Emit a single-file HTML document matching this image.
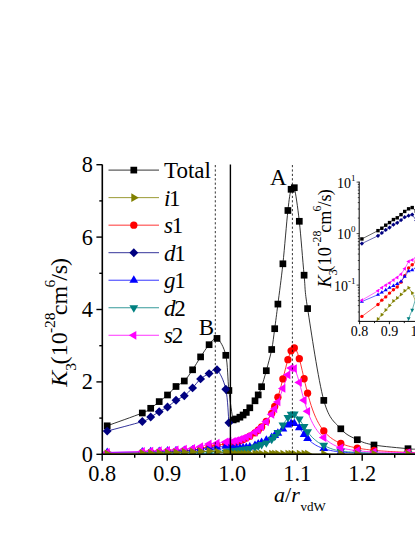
<!DOCTYPE html>
<html><head><meta charset="utf-8"><title>K3</title>
<style>
html,body{margin:0;padding:0;background:#fff;}
body{width:415px;height:537px;overflow:hidden;}
svg{display:block;}
text{font-family:"Liberation Serif",serif;fill:#000;}
.t20{font-size:23px;} .tk{font-size:22.3px;} .t21{font-size:23px;} .t22{font-size:24px;}
.t12{font-size:14px;} .t16{font-size:18.3px;}
.sub{font-size:15.5px;} .sub10{font-size:11.8px;} .sup8{font-size:9px;}
</style></head><body>
<svg width="415" height="537" viewBox="0 0 415 537">
<defs><clipPath id="mainclip"><rect x="102.3" y="160" width="320" height="294.3"/></clipPath><clipPath id="insclip"><rect x="359.2" y="178.1" width="60" height="143.29999999999998"/></clipPath></defs>
<rect width="415" height="537" fill="#fff"/>
<g clip-path="url(#mainclip)">
<path d="M107.20 425.80C113.05 423.67 135.05 415.92 142.30 413.00C149.55 410.08 147.88 410.20 150.70 408.30C153.52 406.40 156.40 403.82 159.20 401.60C162.00 399.38 164.70 397.52 167.50 395.00C170.30 392.48 173.20 388.83 176.00 386.50C178.80 384.17 181.53 383.78 184.30 381.00C187.07 378.22 189.88 373.82 192.60 369.80C195.32 365.78 197.85 361.08 200.60 356.90C203.35 352.72 206.37 347.78 209.10 344.70C211.83 341.62 214.22 336.63 217.00 338.40C219.78 340.17 223.82 346.62 225.80 355.30C227.78 363.98 227.67 379.73 228.90 390.50C230.13 401.27 231.95 415.15 233.20 419.90C234.45 424.65 235.28 419.45 236.40 419.00C237.52 418.55 238.78 417.87 239.90 417.20C241.02 416.53 242.03 415.80 243.10 415.00C244.17 414.20 245.18 413.60 246.30 412.40C247.42 411.20 248.35 409.73 249.80 407.80C251.25 405.87 253.60 402.95 255.00 400.80C256.40 398.65 257.10 397.25 258.20 394.90C259.30 392.55 260.25 390.73 261.60 386.70C262.95 382.67 264.62 376.90 266.30 370.70C267.98 364.50 270.30 356.50 271.70 349.50C273.10 342.50 273.67 336.27 274.70 328.70C275.73 321.13 276.53 314.92 277.90 304.10C279.27 293.28 281.23 279.40 282.90 263.80C284.57 248.20 286.53 222.92 287.90 210.50C289.27 198.08 290.03 193.10 291.10 189.30C292.17 185.50 292.93 182.37 294.30 187.70C295.67 193.03 297.67 206.72 299.30 221.30C300.93 235.88 302.72 260.65 304.10 275.20C305.48 289.75 304.32 287.73 307.60 308.60C310.88 329.47 318.27 380.37 323.80 400.40C329.33 420.43 335.22 422.25 340.80 428.80C346.38 435.35 351.77 437.00 357.30 439.70C362.83 442.40 365.55 443.50 374.00 445.00C382.45 446.50 401.17 448.00 408.00 448.70C414.83 449.40 413.83 449.12 415.00 449.20" fill="none" stroke="#000000" stroke-width="0.8"/>
<rect x="103.85" y="422.45" width="6.70" height="6.70" fill="#000000"/>
<rect x="138.95" y="409.65" width="6.70" height="6.70" fill="#000000"/>
<rect x="147.35" y="404.95" width="6.70" height="6.70" fill="#000000"/>
<rect x="155.85" y="398.25" width="6.70" height="6.70" fill="#000000"/>
<rect x="164.15" y="391.65" width="6.70" height="6.70" fill="#000000"/>
<rect x="172.65" y="383.15" width="6.70" height="6.70" fill="#000000"/>
<rect x="180.95" y="377.65" width="6.70" height="6.70" fill="#000000"/>
<rect x="189.25" y="366.45" width="6.70" height="6.70" fill="#000000"/>
<rect x="197.25" y="353.55" width="6.70" height="6.70" fill="#000000"/>
<rect x="205.75" y="341.35" width="6.70" height="6.70" fill="#000000"/>
<rect x="213.65" y="335.05" width="6.70" height="6.70" fill="#000000"/>
<rect x="222.45" y="351.95" width="6.70" height="6.70" fill="#000000"/>
<rect x="225.55" y="387.15" width="6.70" height="6.70" fill="#000000"/>
<rect x="229.85" y="416.55" width="6.70" height="6.70" fill="#000000"/>
<rect x="233.05" y="415.65" width="6.70" height="6.70" fill="#000000"/>
<rect x="236.55" y="413.85" width="6.70" height="6.70" fill="#000000"/>
<rect x="239.75" y="411.65" width="6.70" height="6.70" fill="#000000"/>
<rect x="242.95" y="409.05" width="6.70" height="6.70" fill="#000000"/>
<rect x="246.45" y="404.45" width="6.70" height="6.70" fill="#000000"/>
<rect x="251.65" y="397.45" width="6.70" height="6.70" fill="#000000"/>
<rect x="254.85" y="391.55" width="6.70" height="6.70" fill="#000000"/>
<rect x="258.25" y="383.35" width="6.70" height="6.70" fill="#000000"/>
<rect x="262.95" y="367.35" width="6.70" height="6.70" fill="#000000"/>
<rect x="268.35" y="346.15" width="6.70" height="6.70" fill="#000000"/>
<rect x="271.35" y="325.35" width="6.70" height="6.70" fill="#000000"/>
<rect x="274.55" y="300.75" width="6.70" height="6.70" fill="#000000"/>
<rect x="279.55" y="260.45" width="6.70" height="6.70" fill="#000000"/>
<rect x="284.55" y="207.15" width="6.70" height="6.70" fill="#000000"/>
<rect x="287.75" y="185.95" width="6.70" height="6.70" fill="#000000"/>
<rect x="290.95" y="184.35" width="6.70" height="6.70" fill="#000000"/>
<rect x="295.95" y="217.95" width="6.70" height="6.70" fill="#000000"/>
<rect x="300.75" y="271.85" width="6.70" height="6.70" fill="#000000"/>
<rect x="304.25" y="305.25" width="6.70" height="6.70" fill="#000000"/>
<rect x="320.45" y="397.05" width="6.70" height="6.70" fill="#000000"/>
<rect x="337.45" y="425.45" width="6.70" height="6.70" fill="#000000"/>
<rect x="353.95" y="436.35" width="6.70" height="6.70" fill="#000000"/>
<rect x="370.65" y="441.65" width="6.70" height="6.70" fill="#000000"/>
<rect x="404.65" y="445.35" width="6.70" height="6.70" fill="#000000"/>
<path d="M107.20 453.41L142.30 452.78L150.70 452.45L159.20 452.16L167.50 451.77L176.00 451.37L184.30 450.97L192.60 450.17L200.60 448.80L209.10 446.48L217.00 445.32L225.80 443.80L228.90 443.08" fill="none" stroke="#ff0000" stroke-width="0.8"/>
<circle cx="107.20" cy="453.41" r="3.65" fill="#ff0000"/>
<circle cx="142.30" cy="452.78" r="3.65" fill="#ff0000"/>
<circle cx="150.70" cy="452.45" r="3.65" fill="#ff0000"/>
<circle cx="159.20" cy="452.16" r="3.65" fill="#ff0000"/>
<circle cx="167.50" cy="451.77" r="3.65" fill="#ff0000"/>
<circle cx="176.00" cy="451.37" r="3.65" fill="#ff0000"/>
<circle cx="184.30" cy="450.97" r="3.65" fill="#ff0000"/>
<circle cx="192.60" cy="450.17" r="3.65" fill="#ff0000"/>
<circle cx="200.60" cy="448.80" r="3.65" fill="#ff0000"/>
<circle cx="209.10" cy="446.48" r="3.65" fill="#ff0000"/>
<circle cx="217.00" cy="445.32" r="3.65" fill="#ff0000"/>
<circle cx="225.80" cy="443.80" r="3.65" fill="#ff0000"/>
<circle cx="228.90" cy="443.08" r="3.65" fill="#ff0000"/>
<path d="M233.20 442.97L234.70 442.54L236.20 442.09L237.70 441.60L239.20 441.09L240.70 440.53L242.20 439.94L243.70 439.31L245.20 438.63L246.70 437.90L248.20 437.11L249.70 436.26L251.20 435.38L252.70 434.43L254.20 433.41L255.70 432.30L257.20 431.10L258.70 429.78L260.20 428.35L261.70 426.78L263.20 425.05L264.70 423.30L266.20 421.54L267.70 419.59L269.20 417.44L270.70 415.06L272.20 412.34L273.70 408.89L275.20 405.09L276.70 400.90L278.20 396.29L279.70 391.09L281.20 385.54L282.70 379.72L284.20 373.75L285.70 367.81L287.20 362.14L288.70 357.03L290.20 352.80L291.70 349.75L293.20 348.14L294.70 348.10L296.20 349.92L297.70 353.43L299.20 358.30L300.70 364.12L302.20 370.48L303.70 377.03L305.20 383.48L306.70 389.66L308.20 395.44L309.70 400.76L311.20 405.61L312.70 409.98L314.20 413.91L315.70 417.44L317.20 420.59L318.70 423.40L320.20 425.92L321.70 428.18L323.20 430.20L324.70 432.02L326.20 433.65L327.70 435.13L329.20 436.46L330.70 437.66L332.20 438.76L333.70 439.75L335.20 440.66L336.70 441.49L338.20 442.24L339.70 442.94L341.20 443.58L342.70 444.17L344.20 444.71L345.70 445.21L347.20 445.68L348.70 446.11L350.20 446.51L351.70 446.88L353.20 447.22L354.70 447.55L356.20 447.85L357.70 448.13L359.20 448.40L360.70 448.65L362.20 448.88L363.70 449.10L365.20 449.31L366.70 449.50L368.20 449.68L369.70 449.86L371.20 450.02L372.70 450.18L374.20 450.32L375.70 450.46L377.20 450.60L378.70 450.72L380.20 450.84L381.70 450.96L383.20 451.06L384.70 451.17L386.20 451.26L387.70 451.36L389.20 451.45L390.70 451.53L392.20 451.62L393.70 451.69L395.20 451.77L396.70 451.84L398.20 451.91L399.70 451.97L401.20 452.04L402.70 452.10L404.20 452.16L405.70 452.21L407.20 452.27L408.70 452.32L410.20 452.37L411.70 452.42L413.20 452.46L414.70 452.51L415.00 452.52" fill="none" stroke="#ff0000" stroke-width="0.8"/>
<circle cx="233.20" cy="442.97" r="3.65" fill="#ff0000"/>
<circle cx="236.40" cy="442.03" r="3.65" fill="#ff0000"/>
<circle cx="239.90" cy="440.83" r="3.65" fill="#ff0000"/>
<circle cx="243.10" cy="439.57" r="3.65" fill="#ff0000"/>
<circle cx="246.30" cy="438.10" r="3.65" fill="#ff0000"/>
<circle cx="249.80" cy="436.20" r="3.65" fill="#ff0000"/>
<circle cx="255.00" cy="432.83" r="3.65" fill="#ff0000"/>
<circle cx="258.20" cy="430.23" r="3.65" fill="#ff0000"/>
<circle cx="261.60" cy="426.88" r="3.65" fill="#ff0000"/>
<circle cx="266.30" cy="421.42" r="3.65" fill="#ff0000"/>
<circle cx="271.70" cy="413.32" r="3.65" fill="#ff0000"/>
<circle cx="274.70" cy="406.40" r="3.65" fill="#ff0000"/>
<circle cx="277.90" cy="397.27" r="3.65" fill="#ff0000"/>
<circle cx="282.90" cy="378.93" r="3.65" fill="#ff0000"/>
<circle cx="287.90" cy="359.67" r="3.65" fill="#ff0000"/>
<circle cx="291.10" cy="350.81" r="3.65" fill="#ff0000"/>
<circle cx="294.30" cy="347.94" r="3.65" fill="#ff0000"/>
<circle cx="299.30" cy="358.66" r="3.65" fill="#ff0000"/>
<circle cx="304.10" cy="378.77" r="3.65" fill="#ff0000"/>
<circle cx="307.60" cy="393.18" r="3.65" fill="#ff0000"/>
<circle cx="323.80" cy="430.95" r="3.65" fill="#ff0000"/>
<circle cx="340.80" cy="443.41" r="3.65" fill="#ff0000"/>
<circle cx="357.30" cy="448.06" r="3.65" fill="#ff0000"/>
<circle cx="374.00" cy="450.31" r="3.65" fill="#ff0000"/>
<circle cx="408.00" cy="452.29" r="3.65" fill="#ff0000"/>
<path d="M107.20 431.10C113.05 429.50 135.05 423.85 142.30 421.50C149.55 419.15 147.88 418.63 150.70 417.00C153.52 415.37 156.40 413.37 159.20 411.70C162.00 410.03 164.70 408.90 167.50 407.00C170.30 405.10 173.20 402.17 176.00 400.30C178.80 398.43 181.53 397.87 184.30 395.80C187.07 393.73 189.88 390.72 192.60 387.90C195.32 385.08 197.85 381.28 200.60 378.90C203.35 376.52 206.37 375.13 209.10 373.60C211.83 372.07 214.22 367.10 217.00 369.70C219.78 372.30 223.82 380.37 225.80 389.20C227.78 398.03 228.38 417.12 228.90 422.70" fill="none" stroke="#000080" stroke-width="0.8"/>
<path d="M102.75 431.10L107.20 426.65L111.65 431.10L107.20 435.55Z" fill="#000080"/>
<path d="M137.85 421.50L142.30 417.05L146.75 421.50L142.30 425.95Z" fill="#000080"/>
<path d="M146.25 417.00L150.70 412.55L155.15 417.00L150.70 421.45Z" fill="#000080"/>
<path d="M154.75 411.70L159.20 407.25L163.65 411.70L159.20 416.15Z" fill="#000080"/>
<path d="M163.05 407.00L167.50 402.55L171.95 407.00L167.50 411.45Z" fill="#000080"/>
<path d="M171.55 400.30L176.00 395.85L180.45 400.30L176.00 404.75Z" fill="#000080"/>
<path d="M179.85 395.80L184.30 391.35L188.75 395.80L184.30 400.25Z" fill="#000080"/>
<path d="M188.15 387.90L192.60 383.45L197.05 387.90L192.60 392.35Z" fill="#000080"/>
<path d="M196.15 378.90L200.60 374.45L205.05 378.90L200.60 383.35Z" fill="#000080"/>
<path d="M204.65 373.60L209.10 369.15L213.55 373.60L209.10 378.05Z" fill="#000080"/>
<path d="M212.55 369.70L217.00 365.25L221.45 369.70L217.00 374.15Z" fill="#000080"/>
<path d="M221.35 389.20L225.80 384.75L230.25 389.20L225.80 393.65Z" fill="#000080"/>
<path d="M224.45 422.70L228.90 418.25L233.35 422.70L228.90 427.15Z" fill="#000080"/>
<path d="M107.20 452.56L142.30 451.95L150.70 451.69L159.20 451.40L167.50 451.08L176.00 450.79L184.30 450.46L192.60 450.03L200.60 449.01L209.10 447.53L217.00 447.20L225.80 446.34L228.90 445.61" fill="none" stroke="#0000ff" stroke-width="0.8"/>
<path d="M102.80 455.06L111.60 455.06L107.20 447.58Z" fill="#0000ff"/>
<path d="M137.90 454.44L146.70 454.44L142.30 446.96Z" fill="#0000ff"/>
<path d="M146.30 454.19L155.10 454.19L150.70 446.71Z" fill="#0000ff"/>
<path d="M154.80 453.90L163.60 453.90L159.20 446.42Z" fill="#0000ff"/>
<path d="M163.10 453.57L171.90 453.57L167.50 446.09Z" fill="#0000ff"/>
<path d="M171.60 453.28L180.40 453.28L176.00 445.80Z" fill="#0000ff"/>
<path d="M179.90 452.96L188.70 452.96L184.30 445.48Z" fill="#0000ff"/>
<path d="M188.20 452.52L197.00 452.52L192.60 445.04Z" fill="#0000ff"/>
<path d="M196.20 451.51L205.00 451.51L200.60 444.03Z" fill="#0000ff"/>
<path d="M204.70 450.02L213.50 450.02L209.10 442.54Z" fill="#0000ff"/>
<path d="M212.60 449.70L221.40 449.70L217.00 442.22Z" fill="#0000ff"/>
<path d="M221.40 448.83L230.20 448.83L225.80 441.35Z" fill="#0000ff"/>
<path d="M224.50 448.11L233.30 448.11L228.90 440.63Z" fill="#0000ff"/>
<path d="M233.20 448.47L234.70 448.38L236.20 448.28L237.70 448.18L239.20 448.07L240.70 447.95L242.20 447.83L243.70 447.70L245.20 447.56L246.70 447.41L248.20 447.25L249.70 447.08L251.20 446.68L252.70 446.19L254.20 445.66L255.70 445.10L257.20 444.49L258.70 443.84L260.20 443.14L261.70 442.39L263.20 441.58L264.70 440.85L266.20 440.21L267.70 439.53L269.20 438.79L270.70 437.99L272.20 437.12L273.70 436.18L275.20 435.17L276.70 434.07L278.20 432.89L279.70 431.66L281.20 430.39L282.70 429.08L284.20 427.79L285.70 426.54L287.20 425.39L288.70 424.43L290.20 423.73L291.70 423.35L293.20 423.34L294.70 423.74L296.20 424.59L297.70 425.88L299.20 427.57L300.70 429.58L302.20 431.81L303.70 433.95L305.20 435.82L306.70 437.57L308.20 439.17L309.70 440.63L311.20 441.94L312.70 443.11L314.20 444.16L315.70 445.10L317.20 445.93L318.70 446.67L320.20 447.32L321.70 447.91L323.20 448.44L324.70 448.93L326.20 449.39L327.70 449.80L329.20 450.18L330.70 450.51L332.20 450.81L333.70 451.09L335.20 451.33L336.70 451.56L338.20 451.76L339.70 451.95L341.20 452.09L342.70 452.21L344.20 452.32L345.70 452.42L347.20 452.52L348.70 452.61L350.20 452.69L351.70 452.77L353.20 452.84L354.70 452.91L356.20 452.97L357.70 453.03L359.20 453.08L360.70 453.13L362.20 453.18L363.70 453.22L365.20 453.27L366.70 453.31L368.20 453.34L369.70 453.38L371.20 453.41L372.70 453.45L374.20 453.48L375.70 453.50L377.20 453.53L378.70 453.56L380.20 453.58L381.70 453.61L383.20 453.63L384.70 453.65L386.20 453.67L387.70 453.69L389.20 453.71L390.70 453.72L392.20 453.74L393.70 453.76L395.20 453.77L396.70 453.79L398.20 453.80L399.70 453.82L401.20 453.83L402.70 453.84L404.20 453.85L405.70 453.87L407.20 453.88L408.70 453.89L410.20 453.90L411.70 453.91L413.20 453.92L414.70 453.93L415.00 453.93" fill="none" stroke="#0000ff" stroke-width="0.8"/>
<path d="M228.80 450.96L237.60 450.96L233.20 443.48Z" fill="#0000ff"/>
<path d="M232.00 450.76L240.80 450.76L236.40 443.28Z" fill="#0000ff"/>
<path d="M235.50 450.51L244.30 450.51L239.90 443.03Z" fill="#0000ff"/>
<path d="M238.70 450.24L247.50 450.24L243.10 442.76Z" fill="#0000ff"/>
<path d="M241.90 449.94L250.70 449.94L246.30 442.46Z" fill="#0000ff"/>
<path d="M245.40 449.56L254.20 449.56L249.80 442.08Z" fill="#0000ff"/>
<path d="M250.60 447.86L259.40 447.86L255.00 440.38Z" fill="#0000ff"/>
<path d="M253.80 446.56L262.60 446.56L258.20 439.08Z" fill="#0000ff"/>
<path d="M257.20 444.93L266.00 444.93L261.60 437.45Z" fill="#0000ff"/>
<path d="M261.90 442.66L270.70 442.66L266.30 435.18Z" fill="#0000ff"/>
<path d="M267.30 439.91L276.10 439.91L271.70 432.43Z" fill="#0000ff"/>
<path d="M270.30 438.01L279.10 438.01L274.70 430.53Z" fill="#0000ff"/>
<path d="M273.50 435.63L282.30 435.63L277.90 428.15Z" fill="#0000ff"/>
<path d="M278.50 431.40L287.30 431.40L282.90 423.92Z" fill="#0000ff"/>
<path d="M283.50 427.41L292.30 427.41L287.90 419.93Z" fill="#0000ff"/>
<path d="M286.70 425.96L295.50 425.96L291.10 418.48Z" fill="#0000ff"/>
<path d="M289.90 426.09L298.70 426.09L294.30 418.61Z" fill="#0000ff"/>
<path d="M294.90 430.19L303.70 430.19L299.30 422.71Z" fill="#0000ff"/>
<path d="M299.70 436.96L308.50 436.96L304.10 429.48Z" fill="#0000ff"/>
<path d="M303.20 441.04L312.00 441.04L307.60 433.56Z" fill="#0000ff"/>
<path d="M319.40 451.12L328.20 451.12L323.80 443.64Z" fill="#0000ff"/>
<path d="M336.40 454.55L345.20 454.55L340.80 447.07Z" fill="#0000ff"/>
<path d="M352.90 455.50L361.70 455.50L357.30 448.02Z" fill="#0000ff"/>
<path d="M369.60 455.97L378.40 455.97L374.00 448.49Z" fill="#0000ff"/>
<path d="M403.60 456.38L412.40 456.38L408.00 448.90Z" fill="#0000ff"/>
<path d="M107.20 454.26L142.30 454.26L150.70 454.26L159.20 454.26L167.50 454.26L176.00 454.23L184.30 454.19L192.60 454.12L200.60 453.94L209.10 453.49L217.00 453.11L225.80 452.13L228.90 451.04" fill="none" stroke="#008080" stroke-width="0.8"/>
<path d="M102.80 451.77L111.60 451.77L107.20 459.25Z" fill="#008080"/>
<path d="M137.90 451.77L146.70 451.77L142.30 459.25Z" fill="#008080"/>
<path d="M146.30 451.77L155.10 451.77L150.70 459.25Z" fill="#008080"/>
<path d="M154.80 451.77L163.60 451.77L159.20 459.25Z" fill="#008080"/>
<path d="M163.10 451.77L171.90 451.77L167.50 459.25Z" fill="#008080"/>
<path d="M171.60 451.73L180.40 451.73L176.00 459.21Z" fill="#008080"/>
<path d="M179.90 451.70L188.70 451.70L184.30 459.18Z" fill="#008080"/>
<path d="M188.20 451.63L197.00 451.63L192.60 459.11Z" fill="#008080"/>
<path d="M196.20 451.44L205.00 451.44L200.60 458.92Z" fill="#008080"/>
<path d="M204.70 450.99L213.50 450.99L209.10 458.47Z" fill="#008080"/>
<path d="M212.60 450.61L221.40 450.61L217.00 458.09Z" fill="#008080"/>
<path d="M221.40 449.63L230.20 449.63L225.80 457.11Z" fill="#008080"/>
<path d="M224.50 448.55L233.30 448.55L228.90 456.03Z" fill="#008080"/>
<path d="M233.20 450.80L234.70 450.65L236.20 450.50L237.70 450.33L239.20 450.15L240.70 449.96L242.20 449.75L243.70 449.53L245.20 449.29L246.70 449.03L248.20 448.74L249.70 448.44L251.20 448.08L252.70 447.69L254.20 447.26L255.70 446.79L257.20 446.27L258.70 445.71L260.20 445.09L261.70 444.40L263.20 443.91L264.70 443.44L266.20 442.92L267.70 442.34L269.20 441.37L270.70 440.19L272.20 438.88L273.70 437.43L275.20 435.81L276.70 434.03L278.20 432.08L279.70 429.96L281.20 427.70L282.70 425.33L284.20 422.92L285.70 420.54L287.20 418.33L288.70 416.42L290.20 414.96L291.70 414.05L293.20 413.81L294.70 414.23L296.20 415.29L297.70 416.89L299.20 418.89L300.70 421.15L302.20 423.53L303.70 425.93L305.20 428.27L306.70 430.48L308.20 432.55L309.70 434.45L311.20 436.18L312.70 437.75L314.20 439.16L315.70 440.43L317.20 441.57L318.70 442.59L320.20 443.51L321.70 444.34L323.20 445.08L324.70 445.79L326.20 446.57L327.70 447.28L329.20 447.91L330.70 448.49L332.20 449.01L333.70 449.47L335.20 449.90L336.70 450.28L338.20 450.63L339.70 450.94L341.20 451.15L342.70 451.32L344.20 451.48L345.70 451.63L347.20 451.77L348.70 451.89L350.20 452.01L351.70 452.12L353.20 452.22L354.70 452.32L356.20 452.41L357.70 452.49L359.20 452.57L360.70 452.64L362.20 452.71L363.70 452.77L365.20 452.83L366.70 452.89L368.20 452.94L369.70 452.99L371.20 453.04L372.70 453.09L374.20 453.13L375.70 453.17L377.20 453.21L378.70 453.25L380.20 453.28L381.70 453.32L383.20 453.35L384.70 453.38L386.20 453.41L387.70 453.43L389.20 453.46L390.70 453.49L392.20 453.51L393.70 453.53L395.20 453.55L396.70 453.58L398.20 453.60L399.70 453.61L401.20 453.63L402.70 453.65L404.20 453.67L405.70 453.68L407.20 453.70L408.70 453.72L410.20 453.73L411.70 453.74L413.20 453.76L414.70 453.77L415.00 453.77" fill="none" stroke="#008080" stroke-width="0.8"/>
<path d="M228.80 448.31L237.60 448.31L233.20 455.79Z" fill="#008080"/>
<path d="M232.00 447.98L240.80 447.98L236.40 455.46Z" fill="#008080"/>
<path d="M235.50 447.57L244.30 447.57L239.90 455.05Z" fill="#008080"/>
<path d="M238.70 447.12L247.50 447.12L243.10 454.60Z" fill="#008080"/>
<path d="M241.90 446.60L250.70 446.60L246.30 454.08Z" fill="#008080"/>
<path d="M245.40 445.92L254.20 445.92L249.80 453.40Z" fill="#008080"/>
<path d="M250.60 444.52L259.40 444.52L255.00 452.00Z" fill="#008080"/>
<path d="M253.80 443.41L262.60 443.41L258.20 450.89Z" fill="#008080"/>
<path d="M257.20 441.96L266.00 441.96L261.60 449.44Z" fill="#008080"/>
<path d="M261.90 440.39L270.70 440.39L266.30 447.87Z" fill="#008080"/>
<path d="M267.30 436.84L276.10 436.84L271.70 444.32Z" fill="#008080"/>
<path d="M270.30 433.88L279.10 433.88L274.70 441.36Z" fill="#008080"/>
<path d="M273.50 429.99L282.30 429.99L277.90 437.47Z" fill="#008080"/>
<path d="M278.50 422.52L287.30 422.52L282.90 430.00Z" fill="#008080"/>
<path d="M283.50 414.90L292.30 414.90L287.90 422.38Z" fill="#008080"/>
<path d="M286.70 411.85L295.50 411.85L291.10 419.33Z" fill="#008080"/>
<path d="M289.90 411.56L298.70 411.56L294.30 419.04Z" fill="#008080"/>
<path d="M294.90 416.54L303.70 416.54L299.30 424.02Z" fill="#008080"/>
<path d="M299.70 424.07L308.50 424.07L304.10 431.55Z" fill="#008080"/>
<path d="M303.20 429.25L312.00 429.25L307.60 436.73Z" fill="#008080"/>
<path d="M319.40 442.86L328.20 442.86L323.80 450.34Z" fill="#008080"/>
<path d="M336.40 448.61L345.20 448.61L340.80 456.09Z" fill="#008080"/>
<path d="M352.90 449.97L361.70 449.97L357.30 457.45Z" fill="#008080"/>
<path d="M369.60 450.63L378.40 450.63L374.00 458.11Z" fill="#008080"/>
<path d="M403.60 451.22L412.40 451.22L408.00 458.70Z" fill="#008080"/>
<path d="M107.20 452.45L142.30 451.49L150.70 451.08L159.20 450.72L167.50 450.32L176.00 449.78L184.30 449.20L192.60 448.40L200.60 446.77L209.10 443.95L217.00 443.19L225.80 441.99L228.90 441.27" fill="none" stroke="#ff00ff" stroke-width="0.8"/>
<path d="M109.69 448.05L109.69 456.85L102.21 452.45Z" fill="#ff00ff"/>
<path d="M144.79 447.09L144.79 455.89L137.31 451.49Z" fill="#ff00ff"/>
<path d="M153.19 446.68L153.19 455.48L145.71 451.08Z" fill="#ff00ff"/>
<path d="M161.69 446.32L161.69 455.12L154.21 450.72Z" fill="#ff00ff"/>
<path d="M169.99 445.92L169.99 454.72L162.51 450.32Z" fill="#ff00ff"/>
<path d="M178.49 445.38L178.49 454.18L171.01 449.78Z" fill="#ff00ff"/>
<path d="M186.79 444.80L186.79 453.60L179.31 449.20Z" fill="#ff00ff"/>
<path d="M195.09 444.00L195.09 452.80L187.61 448.40Z" fill="#ff00ff"/>
<path d="M203.09 442.37L203.09 451.17L195.61 446.77Z" fill="#ff00ff"/>
<path d="M211.59 439.55L211.59 448.35L204.11 443.95Z" fill="#ff00ff"/>
<path d="M219.49 438.79L219.49 447.59L212.01 443.19Z" fill="#ff00ff"/>
<path d="M228.29 437.59L228.29 446.39L220.81 441.99Z" fill="#ff00ff"/>
<path d="M231.39 436.87L231.39 445.67L223.91 441.27Z" fill="#ff00ff"/>
<path d="M233.20 441.46L234.70 441.07L236.20 440.65L237.70 440.21L239.20 439.74L240.70 439.23L242.20 438.70L243.70 438.13L245.20 437.52L246.70 436.86L248.20 436.16L249.70 435.40L251.20 434.59L252.70 433.71L254.20 432.77L255.70 431.74L257.20 430.64L258.70 429.43L260.20 428.12L261.70 426.70L263.20 425.14L264.70 423.53L266.20 421.89L267.70 420.07L269.20 418.08L270.70 415.89L272.20 413.48L273.70 410.82L275.20 407.90L276.70 404.69L278.20 401.18L279.70 397.37L281.20 393.29L282.70 388.96L284.20 384.95L285.70 380.81L287.20 376.65L288.70 372.68L290.20 369.35L291.70 367.55L293.20 367.49L294.70 369.18L296.20 372.42L297.70 376.86L299.20 382.09L300.70 387.68L302.20 393.34L303.70 398.82L305.20 403.97L306.70 408.72L308.20 413.00L309.70 416.83L311.20 420.25L312.70 423.30L314.20 426.01L315.70 428.41L317.20 430.55L318.70 432.46L320.20 434.16L321.70 435.68L323.20 437.04L324.70 438.33L326.20 439.72L327.70 440.97L329.20 442.10L330.70 443.12L332.20 444.04L333.70 444.86L335.20 445.61L336.70 446.30L338.20 446.91L339.70 447.48L341.20 447.93L342.70 448.29L344.20 448.63L345.70 448.94L347.20 449.22L348.70 449.49L350.20 449.73L351.70 449.96L353.20 450.17L354.70 450.37L356.20 450.56L357.70 450.73L359.20 450.89L360.70 451.04L362.20 451.18L363.70 451.32L365.20 451.44L366.70 451.56L368.20 451.67L369.70 451.78L371.20 451.88L372.70 451.97L374.20 452.02L375.70 452.06L377.20 452.09L378.70 452.13L380.20 452.16L381.70 452.19L383.20 452.22L384.70 452.25L386.20 452.28L387.70 452.31L389.20 452.34L390.70 452.36L392.20 452.39L393.70 452.41L395.20 452.43L396.70 452.45L398.20 452.47L399.70 452.50L401.20 452.52L402.70 452.53L404.20 452.55L405.70 452.57L407.20 452.59L408.70 452.62L410.20 452.65L411.70 452.68L413.20 452.71L414.70 452.74L415.00 452.75" fill="none" stroke="#ff00ff" stroke-width="0.8"/>
<path d="M235.69 437.06L235.69 445.86L228.21 441.46Z" fill="#ff00ff"/>
<path d="M238.89 436.19L238.89 444.99L231.41 440.59Z" fill="#ff00ff"/>
<path d="M242.39 435.11L242.39 443.91L234.91 439.51Z" fill="#ff00ff"/>
<path d="M245.59 433.96L245.59 442.76L238.11 438.36Z" fill="#ff00ff"/>
<path d="M248.79 432.64L248.79 441.44L241.31 437.04Z" fill="#ff00ff"/>
<path d="M252.29 430.95L252.29 439.75L244.81 435.35Z" fill="#ff00ff"/>
<path d="M257.49 427.83L257.49 436.63L250.01 432.23Z" fill="#ff00ff"/>
<path d="M260.69 425.44L260.69 434.24L253.21 429.84Z" fill="#ff00ff"/>
<path d="M264.09 422.40L264.09 431.20L256.61 426.80Z" fill="#ff00ff"/>
<path d="M268.79 417.37L268.79 426.17L261.31 421.77Z" fill="#ff00ff"/>
<path d="M274.19 409.91L274.19 418.71L266.71 414.31Z" fill="#ff00ff"/>
<path d="M277.19 404.50L277.19 413.30L269.71 408.90Z" fill="#ff00ff"/>
<path d="M280.39 397.51L280.39 406.31L272.91 401.91Z" fill="#ff00ff"/>
<path d="M285.39 384.01L285.39 392.81L277.91 388.41Z" fill="#ff00ff"/>
<path d="M290.39 370.38L290.39 379.18L282.91 374.78Z" fill="#ff00ff"/>
<path d="M293.59 363.67L293.59 372.47L286.11 368.07Z" fill="#ff00ff"/>
<path d="M296.79 364.17L296.79 372.97L289.31 368.57Z" fill="#ff00ff"/>
<path d="M301.79 378.05L301.79 386.85L294.31 382.45Z" fill="#ff00ff"/>
<path d="M306.59 395.83L306.59 404.63L299.11 400.23Z" fill="#ff00ff"/>
<path d="M310.09 406.95L310.09 415.75L302.61 411.35Z" fill="#ff00ff"/>
<path d="M326.29 433.15L326.29 441.95L318.81 437.55Z" fill="#ff00ff"/>
<path d="M343.29 443.43L343.29 452.23L335.81 447.83Z" fill="#ff00ff"/>
<path d="M359.79 446.28L359.79 455.08L352.31 450.68Z" fill="#ff00ff"/>
<path d="M376.49 447.61L376.49 456.41L369.01 452.01Z" fill="#ff00ff"/>
<path d="M410.49 448.20L410.49 457.00L403.01 452.60Z" fill="#ff00ff"/>
<path d="M107.20 454.01L142.30 453.50L150.70 453.33L159.20 453.12L167.50 452.85L176.00 452.53L184.30 452.27L192.60 451.91L200.60 451.49L209.10 451.08L217.00 451.77L225.80 452.67L228.90 453.21" fill="none" stroke="#808000" stroke-width="0.8"/>
<path d="M104.71 449.61L104.71 458.41L112.19 454.01Z" fill="#808000"/>
<path d="M139.81 449.10L139.81 457.90L147.29 453.50Z" fill="#808000"/>
<path d="M148.21 448.93L148.21 457.73L155.69 453.33Z" fill="#808000"/>
<path d="M156.71 448.72L156.71 457.52L164.19 453.12Z" fill="#808000"/>
<path d="M165.01 448.45L165.01 457.25L172.49 452.85Z" fill="#808000"/>
<path d="M173.51 448.13L173.51 456.93L180.99 452.53Z" fill="#808000"/>
<path d="M181.81 447.87L181.81 456.67L189.29 452.27Z" fill="#808000"/>
<path d="M190.11 447.51L190.11 456.31L197.59 451.91Z" fill="#808000"/>
<path d="M198.11 447.09L198.11 455.89L205.59 451.49Z" fill="#808000"/>
<path d="M206.61 446.68L206.61 455.48L214.09 451.08Z" fill="#808000"/>
<path d="M214.51 447.37L214.51 456.17L221.99 451.77Z" fill="#808000"/>
<path d="M223.31 448.27L223.31 457.07L230.79 452.67Z" fill="#808000"/>
<path d="M226.41 448.81L226.41 457.61L233.89 453.21Z" fill="#808000"/>
<path d="M233.20 454.10L234.70 454.10L236.20 454.10L237.70 454.10L239.20 454.10L240.70 454.10L242.20 454.10L243.70 454.10L245.20 454.10L246.70 454.10L248.20 454.10L249.70 454.10L251.20 454.10L252.70 454.10L254.20 454.10L255.70 454.10L257.20 454.10L258.70 454.10L260.20 454.10L261.70 454.10L263.20 454.10L264.70 454.10L266.20 454.10L267.70 454.10L269.20 454.10L270.70 454.10L272.20 454.10L273.70 454.10L275.20 454.10L276.70 454.10L278.20 454.10L279.70 454.10L281.20 454.10L282.70 454.10L284.20 454.10L285.70 454.10L287.20 454.10L288.70 454.10L290.20 454.10L291.70 454.10L293.20 454.10L294.70 454.10L296.20 454.10L297.70 454.10L299.20 454.10L300.70 454.10L302.20 454.10L303.70 454.10L305.20 454.10L306.70 454.10L308.20 454.10L309.70 454.10L311.20 454.10L312.70 454.10L314.20 454.10L315.70 454.10L317.20 454.10L318.70 454.10L320.20 454.10L321.70 454.10L323.20 454.10L324.70 454.10L326.20 454.10L327.70 454.10L329.20 454.10L330.70 454.10L332.20 454.10L333.70 454.10L335.20 454.10L336.70 454.10L338.20 454.10L339.70 454.10L341.20 454.10L342.70 454.10L344.20 454.10L345.70 454.10L347.20 454.10L348.70 454.10L350.20 454.10L351.70 454.10L353.20 454.10L354.70 454.10L356.20 454.10L357.70 454.10L359.20 454.10L360.70 454.10L362.20 454.10L363.70 454.10L365.20 454.10L366.70 454.10L368.20 454.10L369.70 454.10L371.20 454.10L372.70 454.10L374.20 454.10L375.70 454.10L377.20 454.10L378.70 454.10L380.20 454.10L381.70 454.10L383.20 454.10L384.70 454.10L386.20 454.10L387.70 454.10L389.20 454.10L390.70 454.10L392.20 454.10L393.70 454.10L395.20 454.10L396.70 454.10L398.20 454.10L399.70 454.10L401.20 454.10L402.70 454.10L404.20 454.10L405.70 454.10L407.20 454.10L408.70 454.10L410.20 454.10L411.70 454.10L413.20 454.10L414.70 454.10L415.00 454.10" fill="none" stroke="#808000" stroke-width="0.8"/>
<path d="M230.71 449.70L230.71 458.50L238.19 454.10Z" fill="#808000"/>
<path d="M233.91 449.70L233.91 458.50L241.39 454.10Z" fill="#808000"/>
<path d="M237.41 449.70L237.41 458.50L244.89 454.10Z" fill="#808000"/>
<path d="M240.61 449.70L240.61 458.50L248.09 454.10Z" fill="#808000"/>
<path d="M243.81 449.70L243.81 458.50L251.29 454.10Z" fill="#808000"/>
<path d="M247.31 449.70L247.31 458.50L254.79 454.10Z" fill="#808000"/>
<path d="M252.51 449.70L252.51 458.50L259.99 454.10Z" fill="#808000"/>
<path d="M255.71 449.70L255.71 458.50L263.19 454.10Z" fill="#808000"/>
<path d="M259.11 449.70L259.11 458.50L266.59 454.10Z" fill="#808000"/>
<path d="M263.81 449.70L263.81 458.50L271.29 454.10Z" fill="#808000"/>
<path d="M269.21 449.70L269.21 458.50L276.69 454.10Z" fill="#808000"/>
<path d="M272.21 449.70L272.21 458.50L279.69 454.10Z" fill="#808000"/>
<path d="M275.41 449.70L275.41 458.50L282.89 454.10Z" fill="#808000"/>
<path d="M280.41 449.70L280.41 458.50L287.89 454.10Z" fill="#808000"/>
<path d="M285.41 449.70L285.41 458.50L292.89 454.10Z" fill="#808000"/>
<path d="M288.61 449.70L288.61 458.50L296.09 454.10Z" fill="#808000"/>
<path d="M291.81 449.70L291.81 458.50L299.29 454.10Z" fill="#808000"/>
<path d="M296.81 449.70L296.81 458.50L304.29 454.10Z" fill="#808000"/>
<path d="M301.61 449.70L301.61 458.50L309.09 454.10Z" fill="#808000"/>
<path d="M305.11 449.70L305.11 458.50L312.59 454.10Z" fill="#808000"/>
<path d="M321.31 449.70L321.31 458.50L328.79 454.10Z" fill="#808000"/>
<path d="M338.31 449.70L338.31 458.50L345.79 454.10Z" fill="#808000"/>
<path d="M354.81 449.70L354.81 458.50L362.29 454.10Z" fill="#808000"/>
<path d="M371.51 449.70L371.51 458.50L378.99 454.10Z" fill="#808000"/>
<path d="M405.51 449.70L405.51 458.50L412.99 454.10Z" fill="#808000"/>
</g>
<line x1="230.4" y1="164.5" x2="230.4" y2="454.3" stroke="#000" stroke-width="1.4"/>
<line x1="215.3" y1="165" x2="215.3" y2="454.3" stroke="#000" stroke-width="0.8" stroke-dasharray="2.2 2.2"/>
<line x1="292.4" y1="165" x2="292.4" y2="454.3" stroke="#000" stroke-width="0.8" stroke-dasharray="2.2 2.2"/>
<line x1="102.3" y1="164.4" x2="102.3" y2="455.0" stroke="#000" stroke-width="1.6"/>
<line x1="101.6" y1="454.3" x2="415" y2="454.3" stroke="#000" stroke-width="1.5"/>
<line x1="96.39999999999999" y1="454.30" x2="102.3" y2="454.30" stroke="#000" stroke-width="1.4"/>
<text x="93" y="461.70" text-anchor="end" class="tk">0</text>
<line x1="99.3" y1="418.10" x2="102.3" y2="418.10" stroke="#000" stroke-width="1.4"/>
<line x1="96.39999999999999" y1="381.90" x2="102.3" y2="381.90" stroke="#000" stroke-width="1.4"/>
<text x="93" y="389.30" text-anchor="end" class="tk">2</text>
<line x1="99.3" y1="345.70" x2="102.3" y2="345.70" stroke="#000" stroke-width="1.4"/>
<line x1="96.39999999999999" y1="309.50" x2="102.3" y2="309.50" stroke="#000" stroke-width="1.4"/>
<text x="93" y="316.90" text-anchor="end" class="tk">4</text>
<line x1="99.3" y1="273.30" x2="102.3" y2="273.30" stroke="#000" stroke-width="1.4"/>
<line x1="96.39999999999999" y1="237.10" x2="102.3" y2="237.10" stroke="#000" stroke-width="1.4"/>
<text x="93" y="244.50" text-anchor="end" class="tk">6</text>
<line x1="99.3" y1="200.90" x2="102.3" y2="200.90" stroke="#000" stroke-width="1.4"/>
<line x1="96.39999999999999" y1="164.70" x2="102.3" y2="164.70" stroke="#000" stroke-width="1.4"/>
<text x="93" y="172.10" text-anchor="end" class="tk">8</text>
<line x1="102.20" y1="454.3" x2="102.20" y2="460.7" stroke="#000" stroke-width="1.4"/>
<text x="102.20" y="480.6" text-anchor="middle" class="tk">0.8</text>
<line x1="134.70" y1="454.3" x2="134.70" y2="457.7" stroke="#000" stroke-width="1.4"/>
<line x1="167.20" y1="454.3" x2="167.20" y2="460.7" stroke="#000" stroke-width="1.4"/>
<text x="167.20" y="480.6" text-anchor="middle" class="tk">0.9</text>
<line x1="199.70" y1="454.3" x2="199.70" y2="457.7" stroke="#000" stroke-width="1.4"/>
<line x1="232.20" y1="454.3" x2="232.20" y2="460.7" stroke="#000" stroke-width="1.4"/>
<text x="232.20" y="480.6" text-anchor="middle" class="tk">1.0</text>
<line x1="264.70" y1="454.3" x2="264.70" y2="457.7" stroke="#000" stroke-width="1.4"/>
<line x1="297.20" y1="454.3" x2="297.20" y2="460.7" stroke="#000" stroke-width="1.4"/>
<text x="297.20" y="480.6" text-anchor="middle" class="tk">1.1</text>
<line x1="329.70" y1="454.3" x2="329.70" y2="457.7" stroke="#000" stroke-width="1.4"/>
<line x1="362.20" y1="454.3" x2="362.20" y2="460.7" stroke="#000" stroke-width="1.4"/>
<text x="362.20" y="480.6" text-anchor="middle" class="tk">1.2</text>
<line x1="394.70" y1="454.3" x2="394.70" y2="457.7" stroke="#000" stroke-width="1.4"/>
<text x="274" y="502.2" style="font-size:22px"><tspan font-style="italic">a</tspan>/<tspan font-style="italic">r</tspan></text>
<text x="300.6" y="510.5" style="font-size:13px">vdW</text>
<text transform="translate(67.2 386.85) rotate(-90)" class="t22"><tspan x="0.00" y="0" font-style="italic">K</tspan><tspan x="16.20" y="8.8" class="sub">3</tspan><tspan x="22.40" y="0">(</tspan><tspan x="30.60" y="0">10</tspan><tspan x="53.80" y="-11.8" class="sub">-28</tspan><tspan x="71.65" y="0">cm</tspan><tspan x="99.40" y="-11.8" class="sub">6</tspan><tspan x="106.00" y="0">/</tspan><tspan x="112.70" y="0">s</tspan><tspan x="120.80" y="0">)</tspan></text>
<text x="278.4" y="184.5" class="t20" text-anchor="middle">A</text>
<text x="206.3" y="335" class="t20" text-anchor="middle">B</text>
<line x1="108.5" y1="170.10" x2="159" y2="170.10" stroke="#000000" stroke-width="0.8"/>
<rect x="130.45" y="166.75" width="6.70" height="6.70" fill="#000000"/>
<text x="164" y="178.20" class="t21">Total</text>
<line x1="108.5" y1="197.63" x2="159" y2="197.63" stroke="#808000" stroke-width="0.8"/>
<path d="M131.31 193.23L131.31 202.03L138.79 197.63Z" fill="#808000"/>
<text x="164" y="205.73" class="t21"><tspan font-style="italic">i</tspan><tspan dx="-1.3">1</tspan></text>
<line x1="108.5" y1="225.16" x2="159" y2="225.16" stroke="#ff0000" stroke-width="0.8"/>
<circle cx="133.80" cy="225.16" r="3.65" fill="#ff0000"/>
<text x="164" y="233.26" class="t21"><tspan font-style="italic">s</tspan><tspan dx="-1.3">1</tspan></text>
<line x1="108.5" y1="252.69" x2="159" y2="252.69" stroke="#000080" stroke-width="0.8"/>
<path d="M129.35 252.69L133.80 248.24L138.25 252.69L133.80 257.14Z" fill="#000080"/>
<text x="164" y="260.79" class="t21"><tspan font-style="italic">d</tspan><tspan dx="-1.3">1</tspan></text>
<line x1="108.5" y1="280.22" x2="159" y2="280.22" stroke="#0000ff" stroke-width="0.8"/>
<path d="M129.40 282.71L138.20 282.71L133.80 275.23Z" fill="#0000ff"/>
<text x="164" y="288.32" class="t21"><tspan font-style="italic">g</tspan><tspan dx="-1.3">1</tspan></text>
<line x1="108.5" y1="307.75" x2="159" y2="307.75" stroke="#008080" stroke-width="0.8"/>
<path d="M129.40 305.26L138.20 305.26L133.80 312.74Z" fill="#008080"/>
<text x="164" y="315.85" class="t21"><tspan font-style="italic">d</tspan><tspan dx="-1.3">2</tspan></text>
<line x1="108.5" y1="335.28" x2="159" y2="335.28" stroke="#ff00ff" stroke-width="0.8"/>
<path d="M136.29 330.88L136.29 339.68L128.81 335.28Z" fill="#ff00ff"/>
<text x="164" y="343.38" class="t21"><tspan font-style="italic">s</tspan><tspan dx="-1.3">2</tspan></text>
<g clip-path="url(#insclip)">
<path d="M361.89 238.95L377.98 230.65L381.84 228.24L385.73 225.20L389.54 222.56L393.43 219.57L397.24 217.82L401.04 214.64L404.71 211.46L408.61 208.82L412.23 207.57L416.27 211.10L417.69 220.93L419.66 234.74L421.13 234.16L422.73 233.05" fill="none" stroke="#000000" stroke-width="0.6"/>
<rect x="360.19" y="237.25" width="3.40" height="3.40" fill="#000000"/>
<rect x="376.28" y="228.95" width="3.40" height="3.40" fill="#000000"/>
<rect x="380.14" y="226.54" width="3.40" height="3.40" fill="#000000"/>
<rect x="384.03" y="223.50" width="3.40" height="3.40" fill="#000000"/>
<rect x="387.84" y="220.86" width="3.40" height="3.40" fill="#000000"/>
<rect x="391.73" y="217.87" width="3.40" height="3.40" fill="#000000"/>
<rect x="395.54" y="216.12" width="3.40" height="3.40" fill="#000000"/>
<rect x="399.34" y="212.94" width="3.40" height="3.40" fill="#000000"/>
<rect x="403.01" y="209.76" width="3.40" height="3.40" fill="#000000"/>
<rect x="406.91" y="207.12" width="3.40" height="3.40" fill="#000000"/>
<rect x="410.53" y="205.87" width="3.40" height="3.40" fill="#000000"/>
<rect x="414.57" y="209.40" width="3.40" height="3.40" fill="#000000"/>
<rect x="415.99" y="219.23" width="3.40" height="3.40" fill="#000000"/>
<rect x="417.96" y="233.04" width="3.40" height="3.40" fill="#000000"/>
<rect x="419.43" y="232.46" width="3.40" height="3.40" fill="#000000"/>
<rect x="421.03" y="231.35" width="3.40" height="3.40" fill="#000000"/>
<path d="M361.89 243.55L377.98 235.81L381.84 232.93L385.73 229.96L389.54 227.62L393.43 224.66L397.24 222.86L401.04 220.03L404.71 217.19L408.61 215.67L412.23 214.61L416.27 220.47L417.69 236.64" fill="none" stroke="#000080" stroke-width="0.6"/>
<path d="M359.79 243.55L361.89 241.45L363.99 243.55L361.89 245.65Z" fill="#000080"/>
<path d="M375.88 235.81L377.98 233.71L380.08 235.81L377.98 237.91Z" fill="#000080"/>
<path d="M379.74 232.93L381.84 230.83L383.94 232.93L381.84 235.03Z" fill="#000080"/>
<path d="M383.63 229.96L385.73 227.86L387.83 229.96L385.73 232.06Z" fill="#000080"/>
<path d="M387.44 227.62L389.54 225.52L391.64 227.62L389.54 229.72Z" fill="#000080"/>
<path d="M391.33 224.66L393.43 222.56L395.53 224.66L393.43 226.76Z" fill="#000080"/>
<path d="M395.14 222.86L397.24 220.76L399.34 222.86L397.24 224.96Z" fill="#000080"/>
<path d="M398.94 220.03L401.04 217.93L403.14 220.03L401.04 222.13Z" fill="#000080"/>
<path d="M402.61 217.19L404.71 215.09L406.81 217.19L404.71 219.29Z" fill="#000080"/>
<path d="M406.51 215.67L408.61 213.57L410.71 215.67L408.61 217.77Z" fill="#000080"/>
<path d="M410.13 214.61L412.23 212.51L414.33 214.61L412.23 216.71Z" fill="#000080"/>
<path d="M414.17 220.47L416.27 218.37L418.37 220.47L416.27 222.57Z" fill="#000080"/>
<path d="M415.59 236.64L417.69 234.54L419.79 236.64L417.69 238.74Z" fill="#000080"/>
<path d="M361.89 316.38L377.98 304.50L381.84 300.16L385.73 296.90L389.54 293.08L393.43 289.81L397.24 286.96L401.04 282.17L404.71 275.74L408.61 267.88L412.23 264.79L416.27 261.29L417.69 259.79" fill="none" stroke="#ff0000" stroke-width="0.6"/>
<circle cx="361.89" cy="316.38" r="1.70" fill="#ff0000"/>
<circle cx="377.98" cy="304.50" r="1.70" fill="#ff0000"/>
<circle cx="381.84" cy="300.16" r="1.70" fill="#ff0000"/>
<circle cx="385.73" cy="296.90" r="1.70" fill="#ff0000"/>
<circle cx="389.54" cy="293.08" r="1.70" fill="#ff0000"/>
<circle cx="393.43" cy="289.81" r="1.70" fill="#ff0000"/>
<circle cx="397.24" cy="286.96" r="1.70" fill="#ff0000"/>
<circle cx="401.04" cy="282.17" r="1.70" fill="#ff0000"/>
<circle cx="404.71" cy="275.74" r="1.70" fill="#ff0000"/>
<circle cx="408.61" cy="267.88" r="1.70" fill="#ff0000"/>
<circle cx="412.23" cy="264.79" r="1.70" fill="#ff0000"/>
<circle cx="416.27" cy="261.29" r="1.70" fill="#ff0000"/>
<circle cx="417.69" cy="259.79" r="1.70" fill="#ff0000"/>
<path d="M361.89 301.52L377.98 294.73L381.84 292.45L385.73 290.09L389.54 287.71L393.43 285.78L397.24 283.80L401.04 281.40L404.71 276.64L408.61 271.10L412.23 270.05L416.27 267.47L417.69 265.52" fill="none" stroke="#0000ff" stroke-width="0.6"/>
<path d="M359.89 302.65L363.89 302.65L361.89 299.25Z" fill="#0000ff"/>
<path d="M375.98 295.87L379.98 295.87L377.98 292.47Z" fill="#0000ff"/>
<path d="M379.84 293.58L383.84 293.58L381.84 290.18Z" fill="#0000ff"/>
<path d="M383.73 291.22L387.73 291.22L385.73 287.82Z" fill="#0000ff"/>
<path d="M387.54 288.84L391.54 288.84L389.54 285.44Z" fill="#0000ff"/>
<path d="M391.43 286.91L395.43 286.91L393.43 283.51Z" fill="#0000ff"/>
<path d="M395.24 284.93L399.24 284.93L397.24 281.53Z" fill="#0000ff"/>
<path d="M399.04 282.53L403.04 282.53L401.04 279.13Z" fill="#0000ff"/>
<path d="M402.71 277.77L406.71 277.77L404.71 274.37Z" fill="#0000ff"/>
<path d="M406.61 272.23L410.61 272.23L408.61 268.83Z" fill="#0000ff"/>
<path d="M410.23 271.18L414.23 271.18L412.23 267.78Z" fill="#0000ff"/>
<path d="M414.27 268.60L418.27 268.60L416.27 265.20Z" fill="#0000ff"/>
<path d="M415.69 266.65L419.69 266.65L417.69 263.25Z" fill="#0000ff"/>
<path d="M361.89 388.10L377.98 388.10L381.84 388.10L385.73 388.10L389.54 388.10L393.43 372.60L397.24 363.53L401.04 352.10L404.71 336.60L408.61 318.46L412.23 309.90L416.27 296.53L417.69 287.46" fill="none" stroke="#008080" stroke-width="0.6"/>
<path d="M359.89 386.97L363.89 386.97L361.89 390.37Z" fill="#008080"/>
<path d="M375.98 386.97L379.98 386.97L377.98 390.37Z" fill="#008080"/>
<path d="M379.84 386.97L383.84 386.97L381.84 390.37Z" fill="#008080"/>
<path d="M383.73 386.97L387.73 386.97L385.73 390.37Z" fill="#008080"/>
<path d="M387.54 386.97L391.54 386.97L389.54 390.37Z" fill="#008080"/>
<path d="M391.43 371.46L395.43 371.46L393.43 374.86Z" fill="#008080"/>
<path d="M395.24 362.39L399.24 362.39L397.24 365.79Z" fill="#008080"/>
<path d="M399.04 350.97L403.04 350.97L401.04 354.37Z" fill="#008080"/>
<path d="M402.71 335.47L406.71 335.47L404.71 338.87Z" fill="#008080"/>
<path d="M406.61 317.33L410.61 317.33L408.61 320.73Z" fill="#008080"/>
<path d="M410.23 308.76L414.23 308.76L412.23 312.16Z" fill="#008080"/>
<path d="M414.27 295.39L418.27 295.39L416.27 298.79Z" fill="#008080"/>
<path d="M415.69 286.32L419.69 286.32L417.69 289.72Z" fill="#008080"/>
<path d="M361.89 300.16L377.98 290.80L381.84 287.71L385.73 285.32L389.54 282.97L393.43 280.11L397.24 277.42L401.04 274.17L404.71 268.72L408.61 261.60L412.23 260.01L416.27 257.73L417.69 256.45" fill="none" stroke="#ff00ff" stroke-width="0.6"/>
<path d="M363.03 298.16L363.03 302.16L359.63 300.16Z" fill="#ff00ff"/>
<path d="M379.12 288.80L379.12 292.80L375.72 290.80Z" fill="#ff00ff"/>
<path d="M382.97 285.71L382.97 289.71L379.57 287.71Z" fill="#ff00ff"/>
<path d="M386.87 283.32L386.87 287.32L383.47 285.32Z" fill="#ff00ff"/>
<path d="M390.67 280.97L390.67 284.97L387.27 282.97Z" fill="#ff00ff"/>
<path d="M394.57 278.11L394.57 282.11L391.17 280.11Z" fill="#ff00ff"/>
<path d="M398.37 275.42L398.37 279.42L394.97 277.42Z" fill="#ff00ff"/>
<path d="M402.18 272.17L402.18 276.17L398.78 274.17Z" fill="#ff00ff"/>
<path d="M405.85 266.72L405.85 270.72L402.45 268.72Z" fill="#ff00ff"/>
<path d="M409.74 259.60L409.74 263.60L406.34 261.60Z" fill="#ff00ff"/>
<path d="M413.36 258.01L413.36 262.01L409.96 260.01Z" fill="#ff00ff"/>
<path d="M417.40 255.73L417.40 259.73L414.00 257.73Z" fill="#ff00ff"/>
<path d="M418.82 254.45L418.82 258.45L415.42 256.45Z" fill="#ff00ff"/>
<path d="M361.89 341.59L377.98 318.97L381.84 314.63L385.73 310.10L389.54 305.59L393.43 301.05L397.24 298.07L401.04 294.39L404.71 290.80L408.61 287.71L412.23 293.08L416.27 302.96L417.69 312.03" fill="none" stroke="#808000" stroke-width="0.6"/>
<path d="M360.76 339.59L360.76 343.59L364.16 341.59Z" fill="#808000"/>
<path d="M376.85 316.97L376.85 320.97L380.25 318.97Z" fill="#808000"/>
<path d="M380.70 312.63L380.70 316.63L384.10 314.63Z" fill="#808000"/>
<path d="M384.60 308.10L384.60 312.10L388.00 310.10Z" fill="#808000"/>
<path d="M388.40 303.59L388.40 307.59L391.80 305.59Z" fill="#808000"/>
<path d="M392.30 299.05L392.30 303.05L395.70 301.05Z" fill="#808000"/>
<path d="M396.11 296.07L396.11 300.07L399.51 298.07Z" fill="#808000"/>
<path d="M399.91 292.39L399.91 296.39L403.31 294.39Z" fill="#808000"/>
<path d="M403.58 288.80L403.58 292.80L406.98 290.80Z" fill="#808000"/>
<path d="M407.48 285.71L407.48 289.71L410.88 287.71Z" fill="#808000"/>
<path d="M411.10 291.08L411.10 295.08L414.50 293.08Z" fill="#808000"/>
<path d="M415.13 300.96L415.13 304.96L418.53 302.96Z" fill="#808000"/>
<path d="M416.55 310.03L416.55 314.03L419.95 312.03Z" fill="#808000"/>
</g>
<line x1="359.2" y1="181.6" x2="359.2" y2="321.9" stroke="#000" stroke-width="1"/>
<line x1="358.7" y1="321.4" x2="415" y2="321.4" stroke="#000" stroke-width="1"/>
<line x1="356.59999999999997" y1="182.10" x2="359.2" y2="182.10" stroke="#000" stroke-width="0.7"/>
<text x="355.59999999999997" y="187.90" text-anchor="end" class="t12">10<tspan class="sup8" dy="-7.3">1</tspan></text>
<line x1="356.59999999999997" y1="233.60" x2="359.2" y2="233.60" stroke="#000" stroke-width="0.7"/>
<text x="355.59999999999997" y="239.40" text-anchor="end" class="t12">10<tspan class="sup8" dy="-7.3">0</tspan></text>
<line x1="357.8" y1="218.10" x2="359.2" y2="218.10" stroke="#000" stroke-width="0.7"/>
<line x1="357.8" y1="209.03" x2="359.2" y2="209.03" stroke="#000" stroke-width="0.7"/>
<line x1="357.8" y1="202.59" x2="359.2" y2="202.59" stroke="#000" stroke-width="0.7"/>
<line x1="357.8" y1="197.60" x2="359.2" y2="197.60" stroke="#000" stroke-width="0.7"/>
<line x1="357.8" y1="193.53" x2="359.2" y2="193.53" stroke="#000" stroke-width="0.7"/>
<line x1="357.8" y1="190.08" x2="359.2" y2="190.08" stroke="#000" stroke-width="0.7"/>
<line x1="357.8" y1="187.09" x2="359.2" y2="187.09" stroke="#000" stroke-width="0.7"/>
<line x1="357.8" y1="184.46" x2="359.2" y2="184.46" stroke="#000" stroke-width="0.7"/>
<line x1="356.59999999999997" y1="285.10" x2="359.2" y2="285.10" stroke="#000" stroke-width="0.7"/>
<text x="355.59999999999997" y="290.90" text-anchor="end" class="t12">10<tspan class="sup8" dy="-7.3">-1</tspan></text>
<line x1="357.8" y1="269.60" x2="359.2" y2="269.60" stroke="#000" stroke-width="0.7"/>
<line x1="357.8" y1="260.53" x2="359.2" y2="260.53" stroke="#000" stroke-width="0.7"/>
<line x1="357.8" y1="254.09" x2="359.2" y2="254.09" stroke="#000" stroke-width="0.7"/>
<line x1="357.8" y1="249.10" x2="359.2" y2="249.10" stroke="#000" stroke-width="0.7"/>
<line x1="357.8" y1="245.03" x2="359.2" y2="245.03" stroke="#000" stroke-width="0.7"/>
<line x1="357.8" y1="241.58" x2="359.2" y2="241.58" stroke="#000" stroke-width="0.7"/>
<line x1="357.8" y1="238.59" x2="359.2" y2="238.59" stroke="#000" stroke-width="0.7"/>
<line x1="357.8" y1="235.96" x2="359.2" y2="235.96" stroke="#000" stroke-width="0.7"/>
<line x1="357.8" y1="321.10" x2="359.2" y2="321.10" stroke="#000" stroke-width="0.7"/>
<line x1="357.8" y1="312.03" x2="359.2" y2="312.03" stroke="#000" stroke-width="0.7"/>
<line x1="357.8" y1="305.59" x2="359.2" y2="305.59" stroke="#000" stroke-width="0.7"/>
<line x1="357.8" y1="300.60" x2="359.2" y2="300.60" stroke="#000" stroke-width="0.7"/>
<line x1="357.8" y1="296.53" x2="359.2" y2="296.53" stroke="#000" stroke-width="0.7"/>
<line x1="357.8" y1="293.08" x2="359.2" y2="293.08" stroke="#000" stroke-width="0.7"/>
<line x1="357.8" y1="290.09" x2="359.2" y2="290.09" stroke="#000" stroke-width="0.7"/>
<line x1="357.8" y1="287.46" x2="359.2" y2="287.46" stroke="#000" stroke-width="0.7"/>
<line x1="359.60" y1="321.4" x2="359.60" y2="324.2" stroke="#000" stroke-width="0.9"/>
<text x="359.60" y="336.4" text-anchor="middle" class="t12">0.8</text>
<line x1="374.50" y1="321.4" x2="374.50" y2="323.09999999999997" stroke="#000" stroke-width="0.9"/>
<line x1="389.40" y1="321.4" x2="389.40" y2="324.2" stroke="#000" stroke-width="0.9"/>
<text x="389.40" y="336.4" text-anchor="middle" class="t12">0.9</text>
<line x1="404.30" y1="321.4" x2="404.30" y2="323.09999999999997" stroke="#000" stroke-width="0.9"/>
<line x1="419.20" y1="321.4" x2="419.20" y2="324.2" stroke="#000" stroke-width="0.9"/>
<text x="419.20" y="336.4" text-anchor="middle" class="t12">1.0</text>
<text transform="translate(330.5 287.6) rotate(-90)" class="t16"><tspan x="0.00" y="0" font-style="italic">K</tspan><tspan x="12.39" y="6.7" class="sub10">3</tspan><tspan x="15.94" y="0">(</tspan><tspan x="22.21" y="0">10</tspan><tspan x="41.16" y="-9.1" class="sub10">-28</tspan><tspan x="54.81" y="0">cm</tspan><tspan x="76.04" y="-9.1" class="sub10">6</tspan><tspan x="81.09" y="0">/</tspan><tspan x="86.22" y="0">s</tspan><tspan x="92.41" y="0">)</tspan></text>
</svg>
</body></html>
